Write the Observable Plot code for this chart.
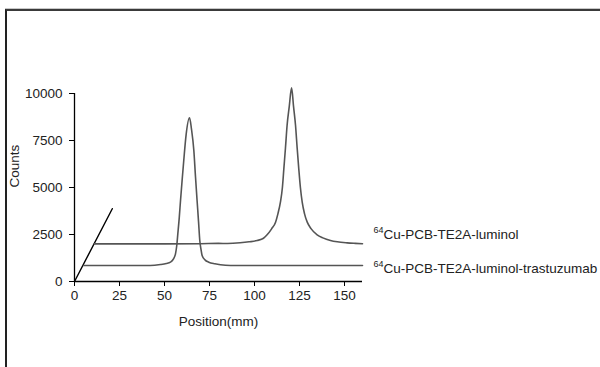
<!DOCTYPE html>
<html>
<head>
<meta charset="utf-8">
<script src="https://cdn.jsdelivr.net/npm/d3@7"></script>
<script src="https://cdn.jsdelivr.net/npm/@observablehq/plot@0.6"></script>
<style>
  html, body { margin: 0; padding: 0; background: #fff; }
  #wrap { position: relative; width: 600px; height: 367px; overflow: hidden; }
  #frame { position: absolute; left: 5px; top: 9px; right: -10px; bottom: -10px;
           border-top: 2px solid #3a3a3a; border-left: 2px solid #222; box-shadow: 0 -1px 0 #c8c8c8; }
  #chart { position: absolute; left: 0; top: 0; }
  svg { font-family: "Liberation Sans", Arial, sans-serif; }
</style>
</head>
<body>
<div id="wrap"><div id="frame"></div><div id="chart"></div></div>
<script>
// Back trace: 64Cu-PCB-TE2A-luminol
const luminolPos = [11, 30, 50, 70, 80, 85, 92, 97, 101.5, 105, 107, 109.5, 111.7, 113, 114.4, 115.5, 116.3, 117.2, 118.1, 119.3, 120.6, 121.7, 122.8, 123.7, 124.6, 125.5, 126.5, 127.8, 129.3, 131.5, 134.8, 138, 142.2, 146, 151.5, 156, 160];
const luminolCounts = [2000, 2000, 2000, 2010, 2030, 2020, 2057, 2110, 2181, 2300, 2482, 2800, 3156, 3600, 4220, 5000, 5993, 7100, 8298, 9300, 10300, 9300, 8298, 7100, 5993, 5000, 4220, 3600, 3156, 2800, 2482, 2320, 2181, 2110, 2057, 2030, 2010];

// Front trace: 64Cu-PCB-TE2A-luminol-trastuzumab
const trastPos = [5, 30, 42, 47.8, 51, 53.3, 55, 56.1, 56.8, 57.4, 58.2, 58.9, 59.8, 60.7, 62, 63.9, 65, 66.3, 67.2, 68.1, 68.9, 69.6, 70.3, 70.9, 72.5, 74.6, 78, 81.1, 86.7, 100, 130, 160];
const trastCounts = [850, 850, 851, 904, 960, 1028, 1200, 1473, 1900, 2536, 3400, 4309, 5400, 6436, 7800, 8707, 8100, 6968, 5600, 4309, 3200, 2181, 1700, 1383, 1150, 1028, 940, 888, 851, 850, 850, 850];

// depth (perspective) axis
const depthPos = [0, 21];
const depthCounts = [0, 3870];

const xTicks = [0, 25, 50, 75, 100, 125, 150];
const yTicks = [0, 2500, 5000, 7500, 10000];
const seriesNames = ["Cu-PCB-TE2A-luminol", "Cu-PCB-TE2A-luminol-trastuzumab"];
const isotope = "64";
const labelCounts = [2500, 700];

const luminol = luminolPos.map((x, i) => ({x, y: luminolCounts[i]}));
const trast = trastPos.map((x, i) => ({x, y: trastCounts[i]}));
const depth = depthPos.map((x, i) => ({x, y: depthCounts[i]}));
const labels = seriesNames.map((name, i) => ({name, x: 160, y: labelCounts[i]}));

const fmt = d => String(d);

const chart = Plot.plot({
  width: 600,
  height: 367,
  marginLeft: 74,
  marginRight: 238,
  marginTop: 93,
  marginBottom: 86,
  style: {fontFamily: "'Liberation Sans', Arial, sans-serif", fontSize: "13.5px", color: "#222", background: "transparent", overflow: "visible"},
  x: {domain: [0, 160], label: null},
  y: {domain: [0, 10000], label: null},
  marks: [
    Plot.axisX({ticks: xTicks, tickFormat: fmt, tickSize: 5, tickPadding: 4, stroke: "#000", fontSize: 13.5, label: null}),
    Plot.axisY({ticks: yTicks, tickFormat: fmt, tickSize: 5, tickPadding: 7, stroke: "#000", fontSize: 13.5, label: null}),
    Plot.ruleX([0], {stroke: "#000", strokeWidth: 1.3}),
    Plot.ruleY([0], {stroke: "#000", strokeWidth: 1.3}),
    Plot.line(depth, {x: "x", y: "y", stroke: "#000", strokeWidth: 1.4}),
    Plot.line(luminol, {x: "x", y: "y", stroke: "#555", strokeWidth: 1.6, curve: "monotone-x"}),
    Plot.line(trast, {x: "x", y: "y", stroke: "#555", strokeWidth: 1.6, curve: "monotone-x"}),
    Plot.text(labels, {x: "x", y: "y", text: () => isotope, dx: 11, dy: -4, textAnchor: "start", fontSize: 9, fill: "#222"}),
    Plot.text(labels, {x: "x", y: "y", text: "name", dx: 21, textAnchor: "start", fontSize: 13.5, fill: "#222"}),
    Plot.text(["Position(mm)"], {frameAnchor: "bottom", dy: 44, fontSize: 13.5, fill: "#222"}),
    Plot.text(["Counts"], {frameAnchor: "left", dx: -60, rotate: -90, fontSize: 13.5, fill: "#222"})
  ]
});
document.getElementById("chart").appendChild(chart);
</script>
</body>
</html>
